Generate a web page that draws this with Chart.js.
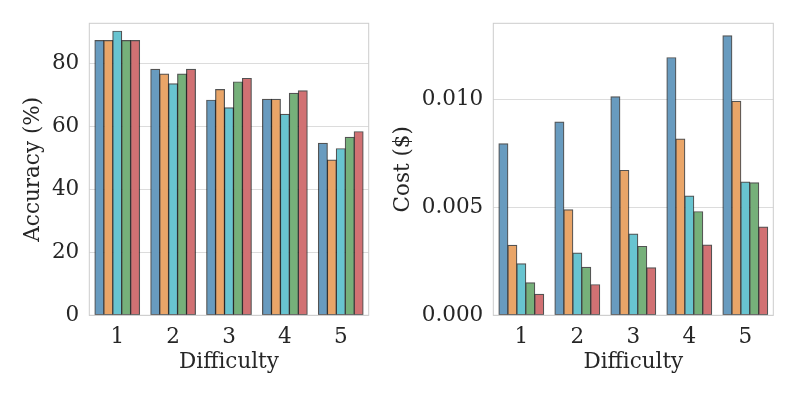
<!DOCTYPE html>
<html>
<head>
<meta charset="utf-8">
<script src="https://cdn.jsdelivr.net/npm/chart.js@4.4.0/dist/chart.umd.min.js"></script>
<style>
  body { margin: 0; background: #fff; }
  canvas { position: absolute; top: 0; }
  #acc { left: 0; }
  #cost { left: 390px; }
</style>
</head>
<body>
<canvas id="acc" width="390" height="399"></canvas>
<canvas id="cost" width="407" height="399"></canvas>
<script>
const difficulty = ['1', '2', '3', '4', '5'];
const seriesNames = ['Method 1', 'Method 2', 'Method 3', 'Method 4', 'Method 5'];

// accuracy (%) per series, one value per difficulty level
const accuracy = [
  [87.2, 78.1, 68.3, 68.6, 54.6],
  [87.2, 76.6, 71.7, 68.6, 49.3],
  [90.2, 73.5, 65.9, 63.8, 52.9],
  [87.2, 76.6, 74.1, 70.5, 56.5],
  [87.2, 78.1, 75.2, 71.3, 58.3]
];

// cost ($) per series
const cost = [
  [0.00794, 0.00895, 0.01012, 0.01193, 0.01294],
  [0.00324, 0.00489, 0.00671, 0.00816, 0.00991],
  [0.00239, 0.00288, 0.00376, 0.00552, 0.00617],
  [0.00151, 0.00222, 0.00319, 0.00480, 0.00614],
  [0.00097, 0.00142, 0.00220, 0.00325, 0.00409]
];

const accTicks = [0, 20, 40, 60, 80];
const costTicks = [0, 0.005, 0.010];

const colors = ['#689bbf', '#e9a568', '#68c4d0', '#76b07a', '#d17173'];
const textColor = '#262626';
const font = { family: 'DejaVu Serif', size: 21.5 };

// seaborn-like frame around the plotting area
const framePlugin = {
  id: 'frame',
  afterDraw(chart) {
    const { ctx, chartArea: a } = chart;
    ctx.save();
    ctx.strokeStyle = '#cccccc';
    ctx.lineWidth = 1;
    ctx.strokeRect(a.left, a.top, a.right - a.left, a.bottom - a.top);
    ctx.restore();
  }
};

function makeChart(id, values, yTitle, yMax, step, tickFmt, yWidth, pad, titlePad) {
  return new Chart(document.getElementById(id), {
    type: 'bar',
    data: {
      labels: difficulty,
      datasets: values.map((v, i) => ({
        label: seriesNames[i],
        data: v,
        backgroundColor: colors[i],
        borderColor: 'rgba(25,25,25,0.75)',
        borderWidth: 1.2,
        borderSkipped: false,
        inflateAmount: 0.5,
        categoryPercentage: 0.8,
        barPercentage: 1.0
      }))
    },
    options: {
      responsive: false,
      animation: false,
      devicePixelRatio: 1,
      layout: { padding: pad },
      plugins: { legend: { display: false }, tooltip: { enabled: false } },
      scales: {
        x: {
          grid: { display: false, drawTicks: false },
          border: { display: false },
          ticks: { color: textColor, font: font, padding: 9 },
          title: { display: true, text: 'Difficulty', color: textColor, font: font, padding: { top: 0, bottom: 24 } },
          afterFit(s) { s.height = 83.7; }
        },
        y: {
          min: 0,
          max: yMax,
          grid: { color: '#dcdcdc', lineWidth: 1, drawTicks: false },
          border: { display: false },
          ticks: { color: textColor, font: font, padding: 10, stepSize: step, includeBounds: false, callback: tickFmt },
          title: { display: true, text: yTitle, color: textColor, font: font, padding: { top: titlePad, bottom: 0 } },
          afterFit(s) { s.width = yWidth; }
        }
      }
    },
    plugins: [framePlugin]
  });
}

makeChart('acc', accuracy, 'Accuracy (%)', 92.7, accTicks[1] - accTicks[0],
  v => String(v), 89.3, { top: 23.3, right: 21.3, bottom: 0, left: 0 }, 21);
makeChart('cost', cost, 'Cost ($)', 0.01352, costTicks[1] - costTicks[0],
  v => v.toFixed(3), 103.3, { top: 23.3, right: 23.7, bottom: 0, left: 0 }, 1);
</script>
</body>
</html>
